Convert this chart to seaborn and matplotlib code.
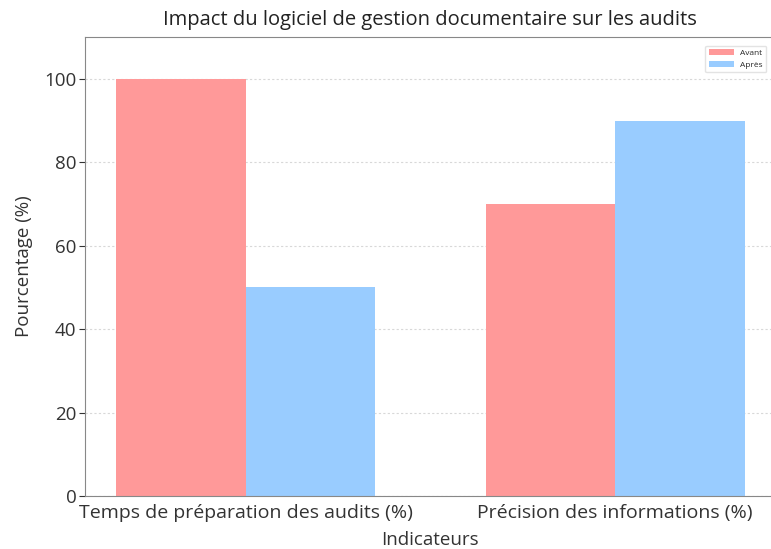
import pandas as pd
import matplotlib
matplotlib.use("Agg")
import matplotlib.pyplot as plt
import seaborn as sns

indicateurs = ["Temps de préparation des audits (%)", "Précision des informations (%)"]
avant = [100, 70]
apres = [50, 90]
periodes = ["Avant", "Après"]
couleurs = ["#FF9999", "#99CCFF"]

df = pd.DataFrame({
    "Indicateur": indicateurs * 2,
    "Période": [periodes[0]] * 2 + [periodes[1]] * 2,
    "Valeur": avant + apres,
})

sns.set_style("white")
plt.rcParams["font.family"] = ["Open Sans", "DejaVu Sans"]

fig = plt.figure(figsize=(7.71, 5.49), dpi=100)
ax = fig.add_axes([0.110, 0.0965, 0.8965, 0.836])

sns.barplot(data=df, x="Indicateur", y="Valeur", hue="Période",
            palette=couleurs, width=0.7, saturation=1, linewidth=0, ax=ax)

ax.set_ylim(0, 110)
ax.set_xlim(-0.435, 1.435)
ax.yaxis.grid(True, linestyle=(0, (2, 2)), color="#d8d8d8", linewidth=0.8)
ax.set_axisbelow(True)
for s in ax.spines.values():
    s.set_color("#888888")
ax.tick_params(axis="y", labelsize=13.5, colors="#333333", length=4, pad=2, left=True)
ax.tick_params(axis="x", labelsize=14, colors="#333333", length=0, pad=6)

ax.set_title("Impact du logiciel de gestion documentaire sur les audits",
             fontsize=14.5, pad=9, color="#222222")
ax.set_xlabel("Indicateurs", fontsize=13.5, labelpad=6, color="#333333")
ax.set_ylabel("Pourcentage (%)", fontsize=13.5, labelpad=8, color="#333333")
leg = ax.legend(loc="upper right", fontsize=6, bbox_to_anchor=(0.992, 0.99),
                handlelength=3, frameon=True)
leg.get_frame().set_edgecolor("#dddddd")

fig.savefig("out.png", dpi=100)
